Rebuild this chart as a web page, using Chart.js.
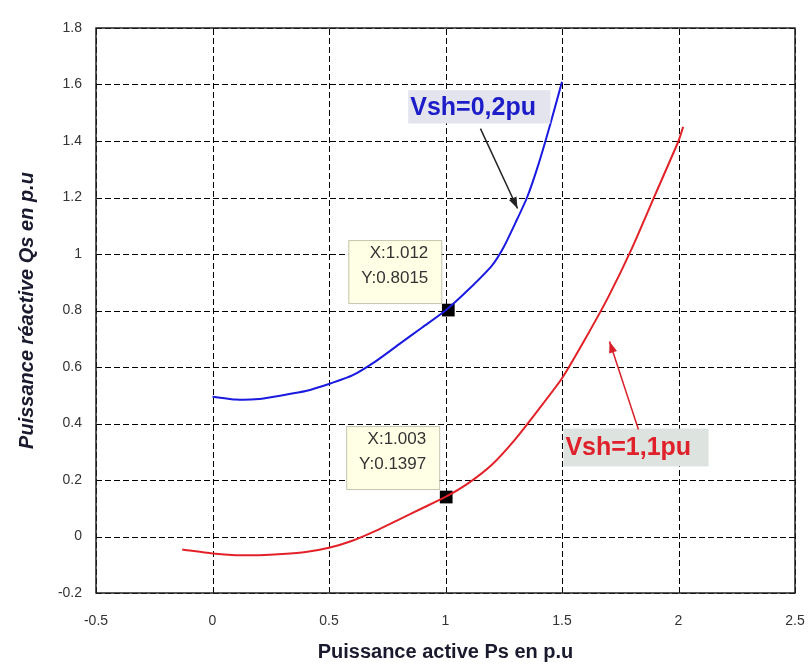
<!DOCTYPE html>
<html>
<head>
<meta charset="utf-8">
<script src="https://cdn.jsdelivr.net/npm/chart.js@4.4.0/dist/chart.umd.min.js"></script>
<style>
  html, body { margin: 0; padding: 0; background: #fff; }
  #wrap { width: 809px; height: 666px; }
</style>
</head>
<body>
<div id="wrap"><canvas id="myChart" width="809" height="666"></canvas></div>
<script>
// Courbe Vsh = 0,2 pu (bleue)
const ps02 = [0, 0.1, 0.2, 0.3, 0.4, 0.5, 0.6, 0.7, 0.8, 0.9, 1.0, 1.1, 1.2, 1.25, 1.3, 1.35, 1.4, 1.45, 1.5];
const qs02 = [0.495, 0.485, 0.487, 0.5, 0.515, 0.54, 0.57, 0.62, 0.68, 0.74, 0.80, 0.875, 0.96, 1.025, 1.11, 1.20, 1.32, 1.46, 1.61];

// Courbe Vsh = 1,1 pu (rouge)
const ps11 = [-0.13, 0, 0.1, 0.2, 0.3, 0.4, 0.5, 0.6, 0.7, 0.8, 0.9, 1.0, 1.1, 1.2, 1.3, 1.4, 1.5, 1.6, 1.7, 1.8, 1.9, 2.0, 2.02];
const qs11 = [-0.046, -0.06, -0.066, -0.066, -0.062, -0.055, -0.04, -0.015, 0.02, 0.06, 0.10, 0.14, 0.19, 0.255, 0.345, 0.45, 0.56, 0.70, 0.85, 1.02, 1.21, 1.40, 1.45];

// Points marqués (data tips)
const tipX = [1.012, 1.003];
const tipY = [0.8015, 0.1397];

// Graduations
const xTicks = [-0.5, 0, 0.5, 1, 1.5, 2, 2.5];
const yTicks = [-0.2, 0, 0.2, 0.4, 0.6, 0.8, 1, 1.2, 1.4, 1.6, 1.8];

const toPts = (xs, ys) => xs.map((x, i) => ({ x: x, y: ys[i] }));

const FONT = "'Liberation Sans', Arial, sans-serif";

// grille en pointillés
const grille = {
  id: 'grille',
  beforeDatasetsDraw(chart) {
    const c = chart.ctx, a = chart.chartArea;
    const sx = chart.scales.x, sy = chart.scales.y;
    c.save();
    c.strokeStyle = '#000';
    c.lineWidth = 1;
    c.setLineDash([6, 3]);
    xTicks.forEach(v => {
      const px = Math.round(sx.getPixelForValue(v)) + 0.5;
      c.beginPath(); c.moveTo(px, a.bottom); c.lineTo(px, a.top); c.stroke();
    });
    yTicks.forEach(v => {
      const py = Math.round(sy.getPixelForValue(v)) + 0.5;
      c.beginPath(); c.moveTo(a.left, py); c.lineTo(a.right, py); c.stroke();
    });
    c.restore();
  }
};

// cadre, data tips et étiquettes
const decor = {
  id: 'decor',
  afterDatasetsDraw(chart) {
    const c = chart.ctx, a = chart.chartArea;
    const sx = chart.scales.x, sy = chart.scales.y;
    c.save();
    // cadre
    c.strokeStyle = '#222';
    c.lineWidth = 1.5;
    c.strokeRect(a.left, a.top, a.right - a.left, a.bottom - a.top);

    // data tips
    const tipTop = [70, 71];
    tipX.forEach((v, i) => {
      const px = sx.getPixelForValue(v), py = sy.getPixelForValue(tipY[i]);
      const bx = px - 100, by = py - tipTop[i], bw = 93, bh = 63;
      c.fillStyle = '#ffffe6';
      c.fillRect(bx, by, bw, bh);
      c.strokeStyle = '#c4c4b0';
      c.lineWidth = 1;
      c.strokeRect(bx + 0.5, by + 0.5, bw, bh);
      c.fillStyle = '#333';
      c.font = '17px ' + FONT;
      c.textAlign = 'right';
      c.textBaseline = 'middle';
      c.fillText('X:' + v, bx + 80, by + 13);
      c.fillText('Y:' + tipY[i], bx + 80, by + 38);
    });

    // étiquettes avec flèches
    const labels = [
      { text: 'Vsh=0,2pu', color: '#1c1cc8', fill: '#e3e4ee',
        box: [0.84, 1.58, 1.45, 1.462], from: [1.15, 1.444], to: [1.309, 1.161], arrow: '#222' },
      { text: 'Vsh=1,1pu', color: '#e0202a', fill: '#dde3df',
        box: [1.506, 0.382, 2.129, 0.248], from: [1.828, 0.379], to: [1.704, 0.69], arrow: '#d8202a' }
    ];
    labels.forEach(l => {
      const x0 = sx.getPixelForValue(l.box[0]), y0 = sy.getPixelForValue(l.box[1]);
      const x1 = sx.getPixelForValue(l.box[2]), y1 = sy.getPixelForValue(l.box[3]);
      c.fillStyle = l.fill;
      c.fillRect(x0, y0, x1 - x0, y1 - y0);
      c.fillStyle = l.color;
      c.font = 'bold 25px ' + FONT;
      c.textAlign = 'left';
      c.textBaseline = 'middle';
      c.fillText(l.text, x0 + 2, (y0 + y1) / 2 + 1);

      const fx = sx.getPixelForValue(l.from[0]), fy = sy.getPixelForValue(l.from[1]);
      const tx = sx.getPixelForValue(l.to[0]), ty = sy.getPixelForValue(l.to[1]);
      c.strokeStyle = l.arrow;
      c.fillStyle = l.arrow;
      c.lineWidth = 1.5;
      c.beginPath(); c.moveTo(fx, fy); c.lineTo(tx, ty); c.stroke();
      const ang = Math.atan2(ty - fy, tx - fx), hl = 12, hw = 0.35;
      c.beginPath();
      c.moveTo(tx, ty);
      c.lineTo(tx - hl * Math.cos(ang - hw), ty - hl * Math.sin(ang - hw));
      c.lineTo(tx - hl * Math.cos(ang + hw), ty - hl * Math.sin(ang + hw));
      c.closePath(); c.fill();
    });
    c.restore();
  }
};

const ctx = document.getElementById('myChart');

new Chart(ctx, {
  type: 'scatter',
  data: {
    datasets: [
      { label: 'Vsh=0,2pu', data: toPts(ps02, qs02), showLine: true, borderColor: '#1a1ae0',
        borderWidth: 2, pointRadius: 0, tension: 0.2 },
      { label: 'Vsh=1,1pu', data: toPts(ps11, qs11), showLine: true, borderColor: '#e22228',
        borderWidth: 2, pointRadius: 0, tension: 0.2 },
      { label: 'tips', data: toPts(tipX, tipY), pointStyle: 'rect', pointRadius: 9,
        backgroundColor: '#000', borderColor: '#000', borderWidth: 0 }
    ]
  },
  options: {
    responsive: false,
    animation: false,
    layout: { padding: { top: 28, right: 14, left: 0, bottom: 0 } },
    plugins: { legend: { display: false }, tooltip: { enabled: false } },
    scales: {
      x: {
        type: 'linear', min: -0.5, max: 2.5,
        afterBuildTicks: s => { s.ticks = xTicks.map(v => ({ value: v })); },
        afterFit: s => { s.height = 73; s.paddingLeft = 0; s.paddingRight = 0; },
        grid: { display: false, drawTicks: false },
        border: { display: false },
        ticks: { padding: 20, color: '#333', font: { family: FONT, size: 14 }, maxRotation: 0,
          callback: v => String(v) },
        title: { display: true, text: 'Puissance active Ps en p.u', color: '#1a1a2e',
          font: { family: FONT, size: 20, weight: 'bold' }, padding: { top: 0, bottom: 2 } }
      },
      y: {
        type: 'linear', min: -0.2, max: 1.8,
        afterBuildTicks: s => { s.ticks = yTicks.map(v => ({ value: v })); },
        afterFit: s => { s.width = 96; s.paddingTop = 0; s.paddingBottom = 0; },
        grid: { display: false, drawTicks: false },
        border: { display: false },
        ticks: { padding: 14, color: '#333', font: { family: FONT, size: 14 },
          callback: v => String(v) },
        title: { display: true, text: 'Puissance réactive Qs en p.u', color: '#1a1a2e',
          font: { family: FONT, size: 20, weight: 'bold', style: 'italic' }, padding: { top: 15, bottom: 0 } }
      }
    }
  },
  plugins: [grille, decor]
});
</script>
</body>
</html>
